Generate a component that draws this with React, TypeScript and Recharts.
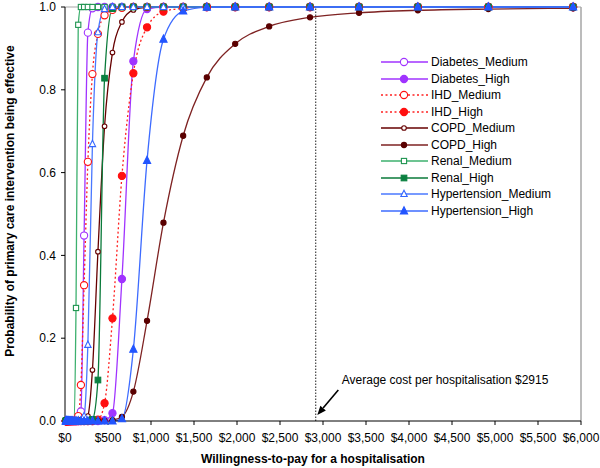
import React from "react";
import { LineChart, Line, XAxis, YAxis, ReferenceLine, Legend } from "recharts";

// willingness-to-pay grid (x of each marker)
const wtp = [
  10, 12, 14, 17, 21, 25, 30, 36, 43, 52, 62, 74, 89, 107, 128, 154, 185, 222,
  266, 319, 383, 460, 552, 662, 795, 954, 1145, 1374, 1649, 1979, 2374, 2849,
  3419, 4103, 4923, 5908,
];

const diabetesMedium = [
  0, 0, 0, 0, 0, 0, 0, 0, 0, 0, 0, 0, 0, 0, 0, 0, 0.023, 0.448, 0.938, 0.997,
  1, 1, 1, 1, 1, 1, 1, 1, 1, 1, 1, 1, 1, 1, 1, 1,
];
const diabetesHigh = [
  0, 0, 0, 0, 0, 0, 0, 0, 0, 0, 0, 0, 0, 0, 0, 0, 0, 0, 0, 0, 0, 0.002, 0.019,
  0.343, 0.869, 0.995, 1, 1, 1, 1, 1, 1, 1, 1, 1, 1,
];
const ihdMedium = [
  0, 0, 0, 0, 0, 0, 0, 0, 0, 0, 0, 0, 0, 0, 0, 0.012, 0.087, 0.328, 0.626,
  0.838, 0.935, 0.98, 0.993, 0.998, 1, 1, 1, 1, 1, 1, 1, 1, 1, 1, 1, 1,
];
const ihdHigh = [
  0, 0, 0, 0, 0, 0, 0, 0, 0, 0, 0, 0, 0, 0, 0, 0, 0, 0, 0, 0, 0.003, 0.043,
  0.248, 0.592, 0.84, 0.951, 0.989, 0.997, 1, 1, 1, 1, 1, 1, 1, 1,
];
const copdMedium = [
  0, 0, 0, 0, 0, 0, 0, 0, 0, 0, 0, 0, 0, 0, 0, 0, 0, 0, 0.012, 0.123, 0.409,
  0.712, 0.89, 0.964, 0.993, 0.999, 1, 1, 1, 1, 1, 1, 1, 1, 1, 1,
];
const copdHigh = [
  0, 0, 0, 0, 0, 0, 0, 0, 0, 0, 0, 0, 0, 0, 0, 0, 0, 0, 0, 0, 0, 0, 0.002, 0.01,
  0.071, 0.242, 0.479, 0.689, 0.83, 0.911, 0.953, 0.975, 0.986, 0.992, 0.995,
  0.997,
];
const renalMedium = [
  0, 0, 0, 0, 0, 0, 0, 0, 0, 0, 0, 0, 0, 0, 0.273, 0.957, 1, 1, 1, 1, 1, 1, 1,
  1, 1, 1, 1, 1, 1, 1, 1, 1, 1, 1, 1, 1,
];
const renalHigh = [
  0, 0, 0, 0, 0, 0, 0, 0, 0, 0, 0, 0, 0, 0, 0, 0, 0, 0, 0, 0.004, 0.099, 0.828,
  0.996, 1, 1, 1, 1, 1, 1, 1, 1, 1, 1, 1, 1, 1,
];
const hypMedium = [
  0, 0, 0, 0, 0, 0, 0, 0, 0, 0, 0, 0, 0, 0, 0, 0, 0, 0.012, 0.184, 0.669,
  0.939, 0.995, 1, 1, 1, 1, 1, 1, 1, 1, 1, 1, 1, 1, 1, 1,
];
const hypHigh = [
  0, 0, 0, 0, 0, 0, 0, 0, 0, 0, 0, 0, 0, 0, 0, 0, 0, 0, 0, 0, 0, 0, 0, 0.005,
  0.173, 0.629, 0.922, 0.99, 0.999, 1, 1, 1, 1, 1, 1, 1,
];

const xTicks = [0, 500, 1000, 1500, 2000, 2500, 3000, 3500, 4000, 4500, 5000, 5500, 6000];
const yTicks = [0, 0.2, 0.4, 0.6, 0.8, 1];

const avgCost = 2915;
const avgCostText = "Average cost per hospitalisation $2915";
const arrowFrom = { x: 3178, y: 0.075 };
const arrowTo = { x: 2934, y: 0.0145 };

const FONT = "'Liberation Sans', Arial, sans-serif";

type Shape = "circle" | "square" | "triangle";
interface Series {
  key: string;
  name: string;
  values: number[];
  color: string;
  mark: string;
  dash?: string;
  shape: Shape;
  size: number;
  filled: boolean;
}

const seriesList: Series[] = [
  { key: "dm", name: "Diabetes_Medium", values: diabetesMedium, color: "#A033FF", mark: "#A033FF", shape: "circle", size: 3.6, filled: false },
  { key: "dh", name: "Diabetes_High", values: diabetesHigh, color: "#A033FF", mark: "#A033FF", shape: "circle", size: 3.6, filled: true },
  { key: "im", name: "IHD_Medium", values: ihdMedium, color: "#FF2020", mark: "#FF1010", dash: "2 2.5", shape: "circle", size: 3.6, filled: false },
  { key: "ih", name: "IHD_High", values: ihdHigh, color: "#FF2020", mark: "#FF1010", dash: "2 2.5", shape: "circle", size: 3.6, filled: true },
  { key: "cm", name: "COPD_Medium", values: copdMedium, color: "#660000", mark: "#660000", shape: "circle", size: 2.3, filled: false },
  { key: "ch", name: "COPD_High", values: copdHigh, color: "#7E2222", mark: "#5A0000", shape: "circle", size: 2.6, filled: true },
  { key: "rm", name: "Renal_Medium", values: renalMedium, color: "#3DB06E", mark: "#1F9450", shape: "square", size: 2.6, filled: false },
  { key: "rh", name: "Renal_High", values: renalHigh, color: "#0A7A3A", mark: "#0A8040", shape: "square", size: 2.8, filled: true },
  { key: "hm", name: "Hypertension_Medium", values: hypMedium, color: "#4A78FF", mark: "#3366FF", shape: "triangle", size: 3.2, filled: false },
  { key: "hh", name: "Hypertension_High", values: hypHigh, color: "#3D6BFF", mark: "#2255FF", shape: "triangle", size: 3.6, filled: true },
];

const data = wtp.map((w, i) => {
  const row: Record<string, number> = { wtp: w };
  seriesList.forEach((s) => {
    row[s.key] = s.values[i];
  });
  return row;
});

function Marker({ cx, cy, s }: { cx: number; cy: number; s: Series }) {
  const fill = s.filled ? s.mark : "#fff";
  const sw = 1.1;
  if (s.shape === "square") {
    return (
      <rect x={cx - s.size} y={cy - s.size} width={s.size * 2} height={s.size * 2} fill={fill} stroke={s.mark} strokeWidth={sw} />
    );
  }
  if (s.shape === "triangle") {
    const r = s.size;
    return (
      <polygon
        points={`${cx},${cy - r * 1.2} ${cx + r},${cy + r * 0.8} ${cx - r},${cy + r * 0.8}`}
        fill={fill}
        stroke={s.mark}
        strokeWidth={sw}
      />
    );
  }
  return <circle cx={cx} cy={cy} r={s.size} fill={fill} stroke={s.mark} strokeWidth={sw} />;
}

function LegendBox() {
  return (
    <div style={{ fontFamily: FONT, fontSize: 12, color: "#000" }}>
      {seriesList.map((s) => (
        <div key={s.key} style={{ display: "flex", alignItems: "center", height: 16.5 }}>
          <svg width={48} height={16} style={{ display: "block" }}>
            <line x1={1} y1={8} x2={48} y2={8} stroke={s.color} strokeWidth={1.3} strokeDasharray={s.dash} />
            <Marker cx={24} cy={8} s={s} />
          </svg>
          <span style={{ marginLeft: 3, whiteSpace: "nowrap" }}>{s.name}</span>
        </div>
      ))}
    </div>
  );
}

function ArrowShape(props: any) {
  const { x1, y1, x2, y2 } = props;
  const ang = Math.atan2(y2 - y1, x2 - x1);
  const len = 9;
  const half = 3.6;
  const bx = x2 - len * Math.cos(ang);
  const by = y2 - len * Math.sin(ang);
  const px = -Math.sin(ang) * half;
  const py = Math.cos(ang) * half;
  return (
    <g>
      <line x1={x1} y1={y1} x2={bx} y2={by} stroke="#000" strokeWidth={1.6} />
      <polygon points={`${x2},${y2} ${bx + px},${by + py} ${bx - px},${by - py}`} fill="#000" />
      <text x={x1 + 3.5} y={y1 - 5.5} fontSize={12} fontFamily={FONT} fill="#000">
        {avgCostText}
      </text>
    </g>
  );
}

export default function App() {
  return (
    <div style={{ position: "absolute", left: 0, top: 0, width: 600, height: 468, background: "#fff" }}>
      <LineChart width={600} height={468} data={data} margin={{ top: 7, right: 19, left: 0, bottom: 0 }}>
        <XAxis
          dataKey="wtp"
          type="number"
          domain={[0, 6000]}
          ticks={xTicks}
          interval={0}
          tickFormatter={(v: number) => "$" + v.toLocaleString("en-US")}
          height={47}
          tickSize={4}
          tickMargin={8}
          stroke="#000"
          tick={{ fill: "#000", fontSize: 12, fontFamily: FONT }}
          label={{
            content: (p: any) => {
              const vb = p.viewBox || { x: 65, y: 421, width: 516, height: 47 };
              return (
                <text x={vb.x + vb.width / 2 - 10} y={vb.y + 42} textAnchor="middle" fontSize={12} fontWeight="bold" fontFamily={FONT} fill="#000">
                  Willingness-to-pay for a hospitalisation
                </text>
              );
            },
          }}
        />
        <YAxis
          type="number"
          domain={[0, 1]}
          ticks={yTicks}
          interval={0}
          tickFormatter={(v: number) => v.toFixed(1)}
          width={65}
          tickSize={4}
          tickMargin={5}
          stroke="#000"
          tick={{ fill: "#000", fontSize: 12, fontFamily: FONT }}
          label={{
            content: (p: any) => {
              const vb = p.viewBox || { x: 0, y: 7, width: 65, height: 414 };
              const cx = vb.x + 13.5;
              const cy = vb.y + vb.height / 2 - 13;
              return (
                <text x={cx} y={cy} transform={`rotate(-90 ${cx} ${cy})`} textAnchor="middle" fontSize={12} fontWeight="bold" fontFamily={FONT} fill="#000">
                  Probability of primary care intervention being effective
                </text>
              );
            },
          }}
        />
        <ReferenceLine y={1} stroke="#A6A6A6" strokeWidth={1.2} />
        <ReferenceLine x={6000} stroke="#A6A6A6" strokeWidth={1.5} />
        <ReferenceLine x={avgCost} stroke="#444" strokeWidth={1.2} strokeDasharray="1.5 1.5" />
        {seriesList.map((s) => (
          <Line
            key={s.key}
            dataKey={s.key}
            name={s.name}
            type="monotone"
            stroke={s.color}
            strokeWidth={1.3}
            strokeDasharray={s.dash}
            isAnimationActive={false}
            activeDot={false}
            dot={(p: any) => <Marker key={`${s.key}-${p.index}`} cx={p.cx} cy={p.cy} s={s} />}
          />
        ))}
        <ReferenceLine segment={[arrowFrom, arrowTo]} shape={ArrowShape} />
        <Legend
          layout="vertical"
          align="center"
          verticalAlign="middle"
          wrapperStyle={{ left: 380, top: 54, width: 210 }}
          content={() => <LegendBox />}
        />
      </LineChart>
    </div>
  );
}
